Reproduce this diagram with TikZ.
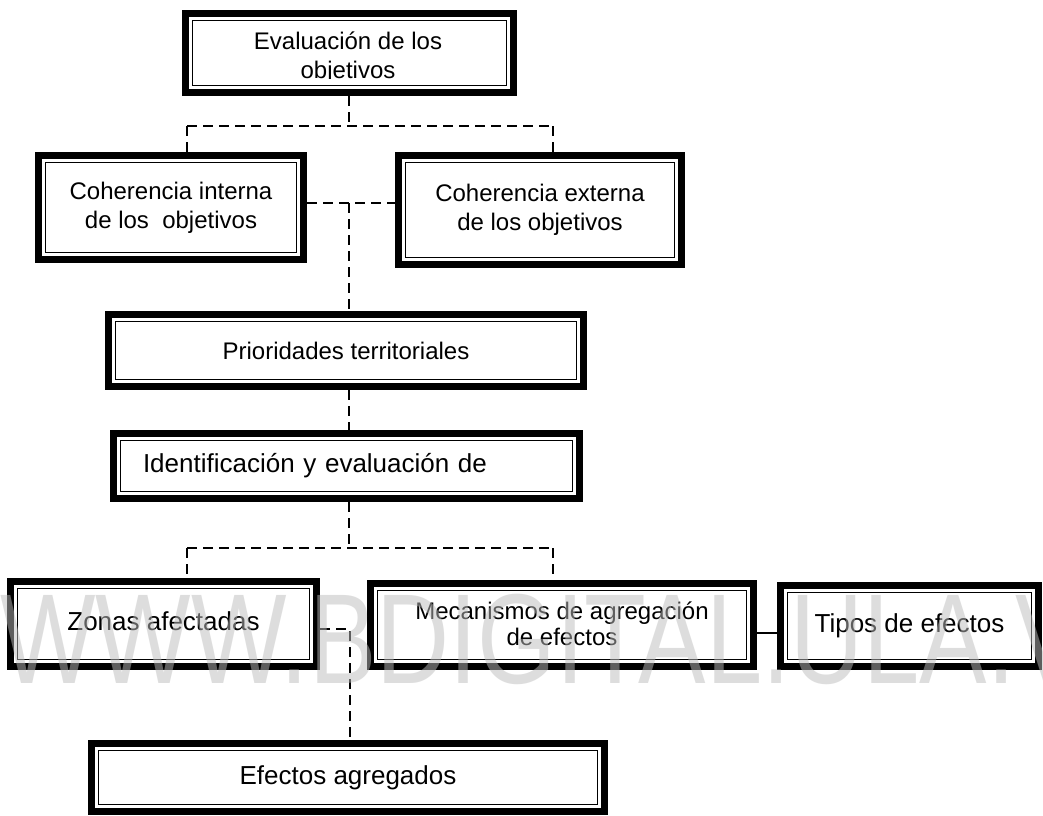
\documentclass[tikz,border=0pt]{standalone}
\usepackage{fontspec}
\setmainfont{Liberation Sans}
% double frame: heavy outer band, white gap, thin inner rule
\newcommand\dblframe[1]{%
  \draw[line width=7.5pt] ([xshift=3.75pt,yshift=-3.75pt]#1.north west) rectangle ([xshift=-3.75pt,yshift=3.75pt]#1.south east);
  \draw[line width=1.4pt] ([xshift=10.8pt,yshift=-10.8pt]#1.north west) rectangle ([xshift=-10.8pt,yshift=10.8pt]#1.south east);
}
\begin{document}
\begin{tikzpicture}[x=1pt,y=-1pt,
  box/.style={rectangle, draw=none, fill=white, inner sep=0pt, align=center,
              font=\fontsize{24}{29}\selectfont},
  bigtext/.style={font=\fontsize{26}{31}\selectfont},
  link/.style={line width=2.4pt, dash pattern=on 10pt off 6pt},
  solidlink/.style={line width=2.4pt}]
\useasboundingbox (0,0) rectangle (1043,815);
\fill[white] (0,0) rectangle (1043,815);

% boxes
\node[box, minimum width=335, minimum height=86] (eval) at (349.5,53) {};
\begin{scope}
  \clip (190,18) rectangle (510,78);
  \node[box, fill=none] (evaltext) at (348,58) {Evaluación de los\\objetivos};
\end{scope}
\node[box, minimum width=272, minimum height=111] (cint) at (171,207.5) {Coherencia interna\\de los\ \ objetivos};
\node[box, minimum width=290, minimum height=116] (cext) at (540,210) {Coherencia externa\\de los objetivos};
\node[box, minimum width=482, minimum height=79] (prio) at (346,350.5) {Prioridades territoriales};
\node[box, bigtext, minimum width=473, minimum height=72, text width=407, align=left,
      inner xsep=33pt] (iden) at (346.5,466) {Identificación y evaluación de};
\node[box, bigtext, minimum width=313, minimum height=92] (zonas) at (163.5,624) {\raisebox{6pt}{Zonas afectadas}};
\node[box, minimum width=390, minimum height=90] (meca) at (562,625) {\raisebox{3pt}{\shortstack{Mecanismos de agregación\\[1pt]de efectos}}};
\node[box, bigtext, minimum width=265, minimum height=88] (tipos) at (909.5,626) {\raisebox{6pt}{Tipos de efectos}};
\node[box, bigtext, minimum width=520, minimum height=75] (efag) at (348,777.5) {Efectos agregados};

\foreach \n in {eval,cint,cext,prio,iden,zonas,meca,tipos,efag}{\dblframe{\n}}

% junction points of the connectors
\coordinate (j1) at (349,126);
\coordinate (l1) at (187,126);
\coordinate (r1) at (553,126);
\coordinate (m1) at (349,203);
\coordinate (j2) at (349,548);
\coordinate (l2) at (187,548);
\coordinate (r2) at (553,548);
\coordinate (j3) at (350,629);
\coordinate (k1) at (767,633);

% connectors
\draw[link] (eval.south -| j1) -- (j1);
\draw[link] (l1) -- (r1);
\draw[link] (l1) -- (l1 |- cint.north);
\draw[link] (r1) -- (r1 |- cext.north);
\draw[link] (m1 -| cint.east) -- (m1 -| cext.west);
\draw[link] (m1) -- (m1 |- prio.north);
\draw[link] (prio.south -| m1) -- (iden.north -| m1);
\draw[link] (iden.south -| j2) -- (j2);
\draw[link] (l2) -- (r2);
\draw[link] (l2) -- (l2 |- zonas.north);
\draw[link] (r2) -- (r2 |- meca.north);
\draw[link] (j3 -| zonas.east) -- (j3) -- (j3 |- efag.north);
\draw[solidlink] (k1 -| meca.east) -- (k1 -| tipos.west);

% watermark
\node[anchor=base west, inner sep=0pt, text={rgb,1:red,0.74;green,0.74;blue,0.74},
      text opacity=0.5, font=\fontsize{128}{128}\selectfont, xscale=0.79] (wm)
      at (0,683) {WWW.BDIGITAL.ULA.VE};
\end{tikzpicture}
\end{document}
